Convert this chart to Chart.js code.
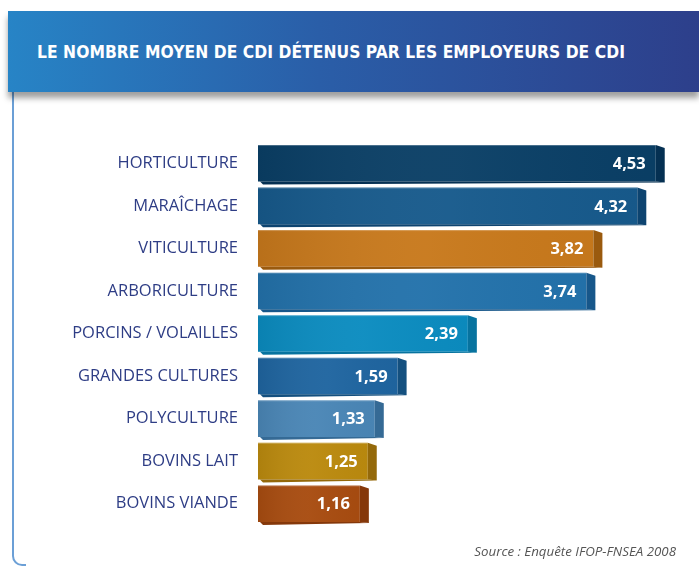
<!DOCTYPE html>
<html>
<head>
<meta charset="utf-8">
<script src="https://cdn.jsdelivr.net/npm/chart.js@4"></script>
<style>
  html, body { margin:0; padding:0; background:#fff; }
  #wrap { position:relative; width:699px; height:568px; overflow:hidden; background:#fff; }
  #header { position:absolute; left:8px; top:11px; width:691px; height:81px;
    background:linear-gradient(90deg,#2784c6 0%,#2a5ea8 45%,#2d3f8b 100%);
    box-shadow:0 6px 6px rgba(0,0,0,0.38); z-index:2; }
  #title { position:absolute; left:29px; top:31px; color:#fff; font-family:"DejaVu Sans Condensed","DejaVu Sans"; font-stretch:condensed;
    font-weight:bold; font-size:17.3px; letter-spacing:0.05px; white-space:nowrap; }
  #frame { position:absolute; left:12px; top:92px; width:60px; height:472px;
    border-left:2px solid #6b9fd6; border-bottom:2px solid #6b9fd6; border-bottom-left-radius:10px; z-index:1; }
  #frame:after { content:""; position:absolute; left:12px; bottom:-3px; width:60px; height:4px; background:#fff; }
  #source { position:absolute; right:23px; top:542px; font-family:"Open Sans"; font-style:italic; font-size:13.3px; color:#555; white-space:nowrap; z-index:3; }
  canvas { position:absolute; left:0; top:0; z-index:3; }
</style>
</head>
<body>
<div id="wrap">
  <div id="header"><div id="title">LE NOMBRE MOYEN DE CDI DÉTENUS PAR LES EMPLOYEURS DE CDI</div></div>
  <div id="frame"></div>
  <canvas id="c" width="699" height="568"></canvas>
  <div id="source">Source : Enquête IFOP-FNSEA 2008</div>
</div>
<script>
const categories = ["HORTICULTURE","MARAÎCHAGE","VITICULTURE","ARBORICULTURE","PORCINS / VOLAILLES","GRANDES CULTURES","POLYCULTURE","BOVINS LAIT","BOVINS VIANDE"];
const values = [4.53, 4.32, 3.82, 3.74, 2.39, 1.59, 1.33, 1.25, 1.16];
const frontColors = ["#0a3f66","#175a8c","#c8791c","#2372ab","#0b8cc0","#1f65a0","#4a86b6","#bb8a0e","#a84c10"];
const sideColors  = ["#053052","#0d4470","#9a5a0e","#17578a","#07739f","#14507f","#356a95","#94690a","#85380a"];

const bar3d = {
  id:'bar3d',
  afterDatasetsDraw(chart){
    const ctx = chart.ctx;
    const meta = chart.getDatasetMeta(0);
    meta.data.forEach((el,i)=>{
      const p = el.getProps(['x','y','base','height'], true);
      const top = p.y - p.height/2, bot = p.y + p.height/2;
      const L = p.base, R = p.x, d = 9;
      ctx.save();
      const g = ctx.createLinearGradient(L,0,R,0);
      g.addColorStop(0,'rgba(0,0,0,0.08)');
      g.addColorStop(0.5,'rgba(255,255,255,0.03)');
      g.addColorStop(1,'rgba(0,0,0,0.02)');
      ctx.fillStyle = g;
      ctx.fillRect(L,top,R-L,bot-top);
      ctx.fillStyle = sideColors[i];
      ctx.beginPath();
      ctx.moveTo(L+2,bot);
      ctx.lineTo(R,bot);
      ctx.lineTo(R+d,bot+1);
      ctx.lineTo(L+5,bot+3);
      ctx.closePath();
      ctx.fill();
      ctx.beginPath();
      ctx.moveTo(R,top);
      ctx.lineTo(R+d,top+3);
      ctx.lineTo(R+d,bot+1);
      ctx.lineTo(R,bot);
      ctx.closePath();
      ctx.fill();
      ctx.strokeStyle='rgba(255,255,255,0.25)';
      ctx.lineWidth=1;
      ctx.beginPath(); ctx.moveTo(L,top+0.5); ctx.lineTo(R,top+0.5); ctx.stroke();
      ctx.fillStyle='#ffffff';
      ctx.font='bold 16.5px "Open Sans"';
      ctx.textAlign='right';
      ctx.textBaseline='middle';
      ctx.fillText(values[i].toFixed(2).replace('.',','), R-10, p.y+1);
      ctx.restore();
    });
  }
};

new Chart(document.getElementById('c'), {
  type:'bar',
  data:{ labels:categories, datasets:[{ data:values, backgroundColor:frontColors, borderWidth:0,
    barPercentage:0.86, categoryPercentage:1 }]},
  options:{
    indexAxis:'y', responsive:false, animation:false,
    layout:{ padding:{ top:142, bottom:43, left:0, right:2 } },
    plugins:{ legend:{display:false}, tooltip:{enabled:false} },
    scales:{
      x:{ display:false, min:0, max:5 },
      y:{ grid:{display:false, drawTicks:false}, border:{display:false},
        afterFit(s){ s.width = 258; },
        ticks:{ padding:20, color:'#2e3d85', font:{ family:'"Open Sans"', size:16.5 } } }
    }
  },
  plugins:[bar3d]
});
</script>
</body>
</html>
